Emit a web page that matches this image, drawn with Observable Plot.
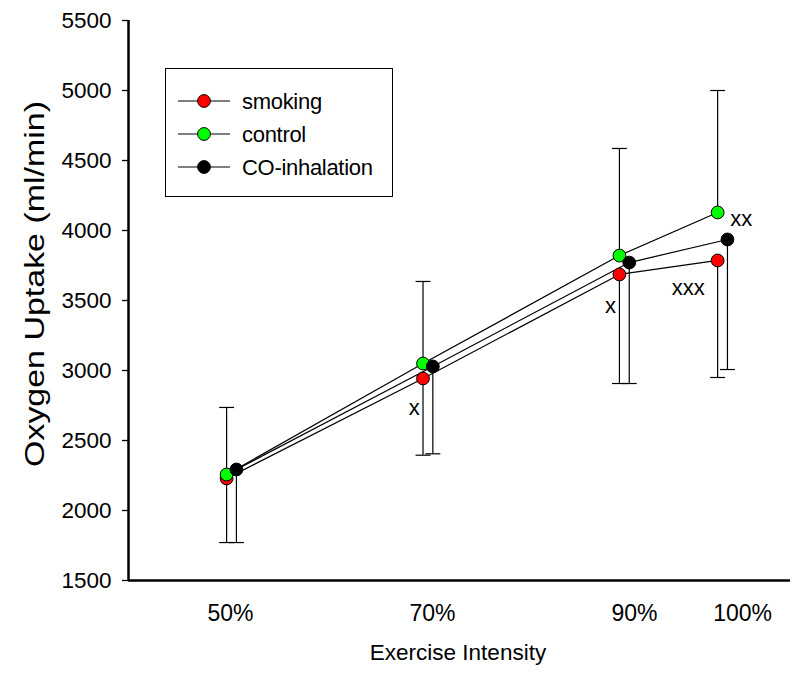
<!DOCTYPE html>
<html><head><meta charset="utf-8">
<script src="https://cdn.jsdelivr.net/npm/d3@7"></script>
<script src="https://cdn.jsdelivr.net/npm/@observablehq/plot@0.6"></script>
<style>
body{margin:0;background:#fff}
#wrap{position:relative;width:805px;height:692px}
#wrap svg{position:absolute;left:0;top:0}
</style>
</head><body><div id="wrap"></div>
<script>
// ---- data ----
const intensity = [50, 70, 90, 100];
const intensityLabels = ["50%", "70%", "90%", "100%"];
const labelAt = [49.9, 70.47, 91.04, 102.04];
const seriesNames = ["smoking", "control", "CO-inhalation"];
const smoking = [2229, 2943, 3686, 3786];
const control = [2257, 3050, 3821, 4129];
const coInhalation = [2293, 3029, 3771, 3936];
const controlUpper = [2736, 3636, 4586, 5000];
const smokingLower = [1771, 2395, 2907, 2950];
const coLower = [1771, 2405, 2907, 3007];
const yTicks = [1500, 2000, 2500, 3000, 3500, 4000, 4500, 5000, 5500];
const notes = ["x", "x", "xxx", "xx"];
const noteX = [68.6, 88.6, 96.5, 101.9];
const noteY = [2736, 3464, 3593, 4079];

// ---- styling ----
const FONT = "'Liberation Sans', Arial, sans-serif";
const colors = {"smoking": "#ff0000", "control": "#00ff00", "CO-inhalation": "#000000"};
const offsets = {"smoking": -0.5, "control": -0.5, "CO-inhalation": 0.5};
const valuesBy = {"smoking": smoking, "control": control, "CO-inhalation": coInhalation};

const rows = seriesNames.flatMap(s => intensity.map((x, i) => ({series: s, x: x + offsets[s], y: valuesBy[s][i]})));
const errRows = [
  ...intensity.map((x, i) => ({x: x + offsets["control"], y: control[i], e: controlUpper[i]})),
  ...intensity.map((x, i) => ({x: x + offsets["smoking"], y: smoking[i], e: smokingLower[i]})),
  ...intensity.map((x, i) => ({x: x + offsets["CO-inhalation"], y: coInhalation[i], e: coLower[i]}))
];
const tickRows = intensity.map((x, i) => ({x: labelAt[i], label: intensityLabels[i]}));
const noteRows = notes.map((t, i) => ({t, x: noteX[i], y: noteY[i]}));
const xMin = 39.51, xMax = 106.92;
const capHalf = 0.76;

const chart = Plot.plot({
  width: 805, height: 692,
  marginLeft: 128, marginRight: 15, marginTop: 20, marginBottom: 112,
  style: {fontFamily: FONT, fontSize: "22px", background: "white", color: "black", overflow: "visible"},
  x: {domain: [xMin, xMax], axis: null},
  y: {domain: [1500, 5500], axis: null},
  marks: [
    Plot.axisY({ticks: yTicks, tickSize: 6, tickFormat: () => "", label: null, stroke: "black", strokeWidth: 1.3}),
    Plot.text(yTicks, {x: xMin, y: d => d, text: d => String(d), dx: -17, textAnchor: "end", fontSize: 22.5, fill: "black"}),
    Plot.ruleX(errRows, {x: "x", y1: "y", y2: "e", stroke: "black", strokeWidth: 1.2}),
    Plot.link(errRows, {x1: d => d.x - capHalf, x2: d => d.x + capHalf, y1: "e", y2: "e", stroke: "black", strokeWidth: 1.2}),
    ...seriesNames.map(s => Plot.line(rows.filter(r => r.series === s), {x: "x", y: "y", stroke: "black", strokeWidth: 1.2})),
    ...seriesNames.map(s => Plot.dot(rows.filter(r => r.series === s), {x: "x", y: "y", r: 6.4, fill: colors[s], stroke: "black", strokeWidth: 1})),
    Plot.text(noteRows, {x: "x", y: "y", text: "t", fontSize: 22, fill: "black"}),
    Plot.text(tickRows, {x: "x", y: 1500, text: "label", dy: 33, fontSize: 23, fill: "black"}),
    Plot.ruleX([xMin], {stroke: "black", strokeWidth: 2.5}),
    Plot.ruleY([1500], {x1: xMin, x2: xMax, stroke: "black", strokeWidth: 2.5})
  ]
});
const wrap = document.getElementById("wrap");
wrap.appendChild(chart);

// ---- legend and axis titles overlay ----
const ov = d3.select(wrap).append("svg").attr("width", 805).attr("height", 692)
  .style("pointer-events", "none").attr("font-family", FONT);
ov.append("rect").attr("x", 165.5).attr("y", 68.5).attr("width", 227).attr("height", 128)
  .attr("fill", "white").attr("stroke", "black").attr("stroke-width", 1);
const rowY = [101, 134, 167];
seriesNames.forEach((s, i) => {
  const g = ov.append("g").attr("transform", `translate(0,${rowY[i]})`);
  g.append("line").attr("x1", 178).attr("x2", 230).attr("y1", 0).attr("y2", 0).attr("stroke", "black").attr("stroke-width", 1.2);
  g.append("circle").attr("cx", 204).attr("cy", 0).attr("r", 6.4).attr("fill", colors[s]).attr("stroke", "black");
  g.append("text").attr("x", 242).attr("y", 0).attr("dy", "0.35em").attr("font-size", 22)
    .attr("letter-spacing", "-0.3").text(s);
});
ov.append("text").attr("x", 458).attr("y", 652).attr("dy", "0.35em").attr("text-anchor", "middle")
  .attr("font-size", 22.5).text("Exercise Intensity");
ov.append("text").attr("transform", "translate(35,284) rotate(-90)").attr("dy", "0.35em")
  .attr("text-anchor", "middle").attr("font-size", 27)
  .attr("textLength", 366).attr("lengthAdjust", "spacingAndGlyphs").text("Oxygen Uptake (ml/min)");
</script>
</body></html>
